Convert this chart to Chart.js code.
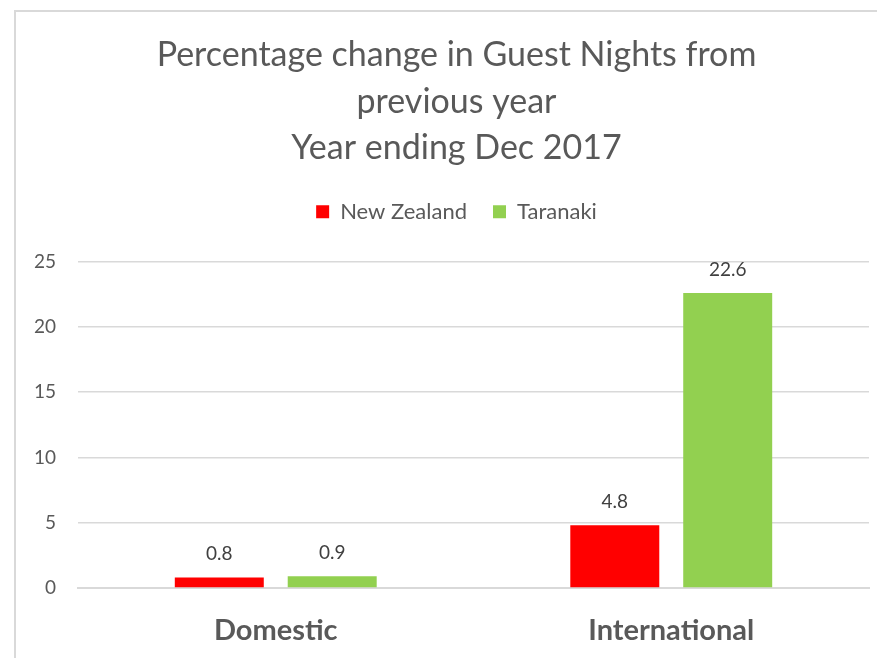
<!DOCTYPE html>
<html>
<head>
<meta charset="utf-8">
<script src="https://cdn.jsdelivr.net/npm/chart.js@4"></script>
<style>
  html, body { margin: 0; padding: 0; background: #fff; overflow: hidden; }
  #wrap { position: relative; width: 877px; height: 658px; }
  #frame { position: absolute; left: 14px; top: 10px; width: 900px; height: 700px;
           border: 2px solid #d9d9d9; box-sizing: border-box; }
  canvas { position: absolute; left: 0; top: 0; }
</style>
</head>
<body>
<div id="wrap">
  <div id="frame"></div>
  <canvas id="grafico" width="877" height="658"></canvas>
</div>
<script>
// === DADOS ===
const categorias = ["Domestic", "International"];
const nomesSeries = ["New Zealand", "Taranaki"];
const valoresNZ = [0.8, 4.8];
const valoresTaranaki = [0.9, 22.6];
const tituloLinhas = ["Percentage change in Guest Nights from", "previous year", "Year ending Dec 2017"];

const fonte = "Lato, 'Open Sans', sans-serif";

// === RÓTULOS DOS VALORES ===
const rotulos = {
  id: "rotulos",
  afterDatasetsDraw(chart) {
    const ctx = chart.ctx;
    ctx.save();
    ctx.font = "19px " + fonte;
    ctx.fillStyle = "#404040";
    ctx.textAlign = "center";
    ctx.textBaseline = "bottom";
    chart.data.datasets.forEach((ds, i) => {
      chart.getDatasetMeta(i).data.forEach((bar, j) => {
        ctx.fillText(ds.data[j].toFixed(1), bar.x, bar.y - 14);
      });
    });
    ctx.restore();
  }
};

// espaço extra abaixo da legenda e título/legenda centrados na moldura
const ajusteTopo = {
  id: "ajusteTopo",
  beforeInit(chart) {
    const fitOriginal = chart.legend.fit;
    chart.legend.fit = function () {
      fitOriginal.bind(chart.legend)();
      this.height += 29;
    };
  },
  afterLayout(chart) {
    [chart.titleBlock, chart.legend].forEach(b => {
      b.left += 22;
      b.right += 22;
    });
  }
};

new Chart(document.getElementById("grafico"), {
  type: "bar",
  data: {
    labels: categorias,
    datasets: [
      { label: nomesSeries[0], data: valoresNZ, backgroundColor: "#ff0000" },
      { label: nomesSeries[1], data: valoresTaranaki, backgroundColor: "#92d050" }
    ]
  },
  options: {
    responsive: false,
    animation: false,
    layout: { padding: { left: 0, right: 8, top: 0, bottom: 0 } },
    datasets: { bar: { categoryPercentage: 0.571, barPercentage: 0.788 } },
    plugins: {
      title: {
        display: true,
        text: tituloLinhas,
        color: "#595959",
        font: { family: fonte, size: 34, weight: "normal", lineHeight: 1.37 },
        padding: { top: 32, bottom: 3 }
      },
      legend: {
        position: "top",
        labels: {
          color: "#595959",
          font: { family: fonte, size: 22 },
          boxWidth: 13,
          boxHeight: 13,
          padding: 26
        }
      },
      tooltip: { enabled: false }
    },
    scales: {
      x: {
        afterFit(scale) { scale.height = 70; },
        grid: { display: false },
        border: { color: "#d9d9d9", width: 2 },
        ticks: { color: "#595959", font: { family: fonte, size: 29, weight: "bold" }, padding: 17 }
      },
      y: {
        min: 0,
        max: 25,
        afterFit(scale) { scale.width = 78; },
        grid: { color: "#d9d9d9", lineWidth: 1.5, drawTicks: false },
        border: { display: false },
        ticks: { stepSize: 5, color: "#595959", font: { family: fonte, size: 19 }, padding: 22 }
      }
    }
  },
  plugins: [rotulos, ajusteTopo]
});
</script>
</body>
</html>
